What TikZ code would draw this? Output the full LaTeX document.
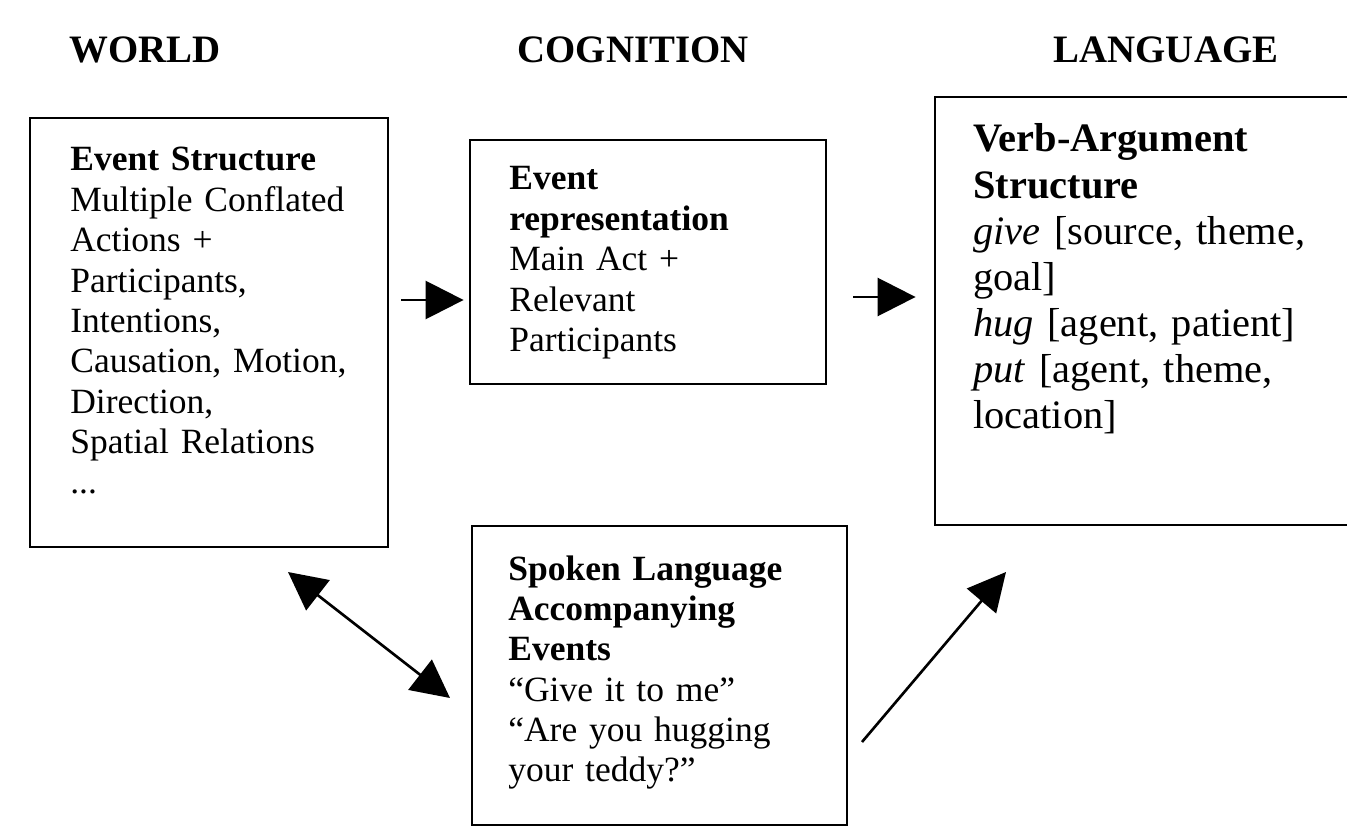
\documentclass[tikz,border=0pt]{standalone}
\usepackage{fontspec}
\setmainfont{Liberation Serif}
\usetikzlibrary{arrows.meta, fit}

\begin{document}
\begin{tikzpicture}[x=0.02cm, y=-0.02cm,
    box/.style={draw, line width=1.6pt, inner sep=0pt},
    txt/.style={anchor=base west, inner sep=0pt, align=left, text width=#1,
        font=\fontsize{20.2pt}{22.96pt}\selectfont},
    bigtxt/.style={anchor=base west, inner sep=0pt, align=left, text width=#1,
        font=\fontsize{23pt}{26.25pt}\selectfont},
    head/.style={anchor=base, inner sep=0pt, font=\bfseries\fontsize{22.1pt}{26pt}\selectfont},
    arr/.style={line width=1.5pt, -{Triangle[length=0.76cm, width=0.76cm]}},
    dbl/.style={line width=1.5pt, {Triangle[length=0.76cm, width=0.76cm]}-{Triangle[length=0.76cm, width=0.76cm]}}]
    \useasboundingbox (0,0) rectangle (1347,828);
    \clip (0,0) rectangle (1347,828);

    % Column titles
    \node[head] (hworld) at (145,63) {WORLD};
    \node[head] (hcog) at (633,63) {COGNITION};
    \node[head] (hlang) at (1166,63) {LANGUAGE};

    % World box
    \coordinate (w1) at (30,118);
    \coordinate (w2) at (388,547);
    \node[box, fit=(w1)(w2)] (world) {};
    \node[txt=6.4cm] (worldtxt) at (70,171) {\textbf{Event Structure}\\
        Multiple Conflated\\ Actions +\\ Participants,\\ Intentions,\\
        Causation, Motion,\\ Direction,\\ Spatial Relations\\ ...};

    % Event representation box
    \coordinate (e1) at (470,140);
    \coordinate (e2) at (826,384);
    \node[box, fit=(e1)(e2)] (ev) {};
    \node[txt=6.2cm] (evtxt) at (509,190) {\textbf{Event}\\ \textbf{representation}\\
        Main Act +\\ Relevant\\ Participants};

    % Verb-argument box (runs off the right edge)
    \coordinate (v1) at (935,97);
    \coordinate (v2) at (1370,525);
    \node[box, fit=(v1)(v2)] (verb) {};
    \node[bigtxt=7.6cm] (verbtxt) at (973,152) {\textbf{Verb-Argument}\\ \textbf{Structure}\\
        \textit{give} [source, theme,\\ goal]\\ \textit{hug} [agent, patient]\\
        \textit{put} [agent, theme,\\ location]};

    % Spoken language box
    \coordinate (s1) at (472,526);
    \coordinate (s2) at (847,825);
    \node[box, fit=(s1)(s2)] (spoken) {};
    \node[txt=6.6cm] (spokentxt) at (508,580) {\textbf{Spoken Language}\\
        \textbf{Accompanying}\\ \textbf{Events}\\ “Give it to me”\\
        “Are you hugging\\ your teddy?”};

    % Arrows
    \coordinate (a1) at (0,300);
    \coordinate (a2) at (0,297);
    \draw[arr, shorten <=0.24cm, shorten >=0.1cm] (a1 -| world.east) -- (a1 -| ev.west);
    \draw[arr, shorten <=0.52cm, shorten >=0.36cm] (a2 -| ev.east) -- (a2 -| verb.west);
    \coordinate (d1) at (288,572);
    \coordinate (d2) at (450,698);
    \draw[dbl] (d1) -- (d2);
    \coordinate (u1) at (862,742);
    \coordinate (u2) at (1006,572);
    \draw[arr] (u1) -- (u2);
\end{tikzpicture}
\end{document}
